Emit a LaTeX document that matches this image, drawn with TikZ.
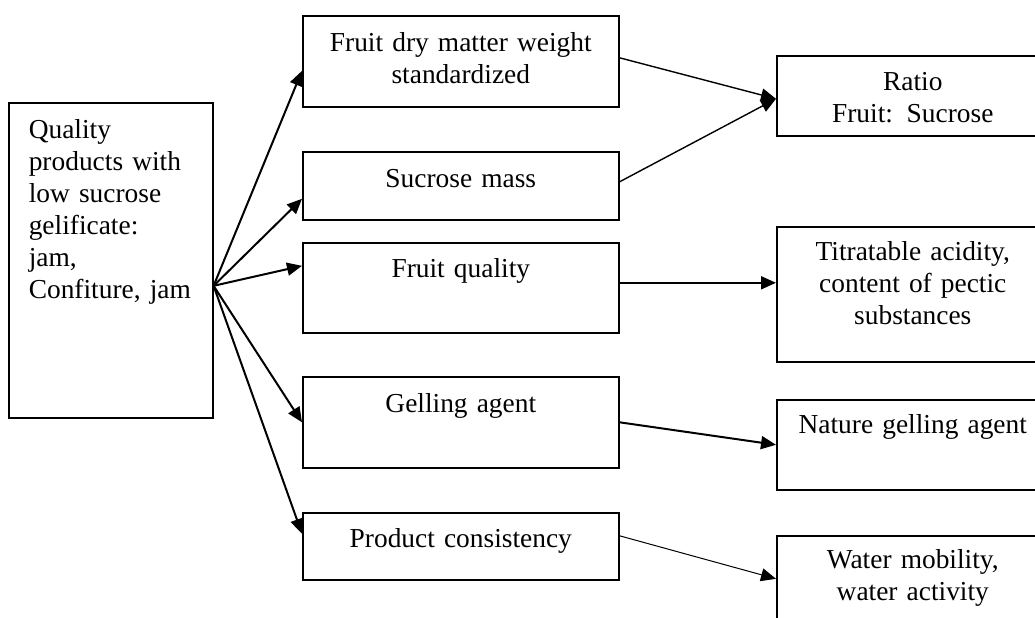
\documentclass[tikz,border=0pt]{standalone}
\usepackage{fontspec}
\setmainfont{Liberation Serif}
\usetikzlibrary{arrows.meta}

\begin{document}
\begin{tikzpicture}[x=0.5pt,y=-0.5pt]
\tikzstyle{box}=[draw, line width=0.8pt, anchor=north west, inner sep=0pt, align=center, font=\fontsize{13.7}{16}\selectfont]
\tikzstyle{midbox}=[box, text width=158pt]
\tikzstyle{sidebox}=[box, text width=136pt]
\tikzstyle{link}=[line width=1pt, -{Triangle[length=7.5pt,width=6.5pt]}]

\useasboundingbox (0,0) rectangle (1035,617);

\draw (8,102) node[box, inner xsep=10pt, text width=82pt, align=left, text height=18pt, text depth=139.5pt] (quality) {Quality\\ products with\\ low sucrose\\ gelificate:\\ jam,\\ Confiture, jam};

\draw (302,15) node[midbox, text height=18pt, text depth=27.5pt] (fruitdry) {Fruit dry matter weight\\ standardized};
\draw (302,151) node[midbox, text height=18pt, text depth=16pt] (sucrose) {Sucrose mass};
\draw (302,242) node[midbox, text height=17.5pt, text depth=27.5pt] (fruitq) {Fruit quality};
\draw (302,376) node[midbox, text height=18pt, text depth=27.5pt] (gelling) {Gelling agent};
\draw (302,512) node[midbox, text height=17.5pt, text depth=16pt] (consist) {Product consistency};

\draw (776,55) node[sidebox, text height=17.5pt, text depth=22.5pt] (ratio) {Ratio\\ Fruit: Sucrose};
\draw (776,226) node[sidebox, text height=17pt, text depth=50.5pt] (acidity) {Titratable acidity,\\ content of pectic\\ substances};
\draw (776,399) node[sidebox, text height=17pt, text depth=28pt] (nature) {Nature gelling agent};
\draw (776,535) node[sidebox, text height=16.5pt, text depth=36pt] (water) {Water mobility,\\ water activity};

\path ([yshift=-12.75pt]quality.east) edge[link] ([yshift=-4.75pt]fruitdry.west);
\path ([yshift=-12.75pt]quality.east) edge[link] ([yshift=-6.5pt]sucrose.west);
\path ([yshift=-12.75pt]quality.east) edge[link] ([yshift=11pt]fruitq.west);
\path ([yshift=-12.75pt]quality.east) edge[link] (gelling.west);
\path ([yshift=-12.75pt]quality.east) edge[link] ([yshift=6.25pt]consist.west);

\path ([yshift=1.75pt]fruitdry.east) edge[link, line width=0.7pt] ([yshift=-1.5pt]ratio.west);
\path ([yshift=2pt]sucrose.east) edge[link, line width=0.7pt] ([yshift=-1.5pt]ratio.west);
\path ([yshift=2.5pt]fruitq.east) edge[link] ([yshift=5.75pt]acidity.west);
\path (gelling.east) edge[link] (nature.west);
\path ([yshift=5.25pt]consist.east) edge[link, line width=0.5pt] ([yshift=4.75pt]water.west);
\end{tikzpicture}
\end{document}
